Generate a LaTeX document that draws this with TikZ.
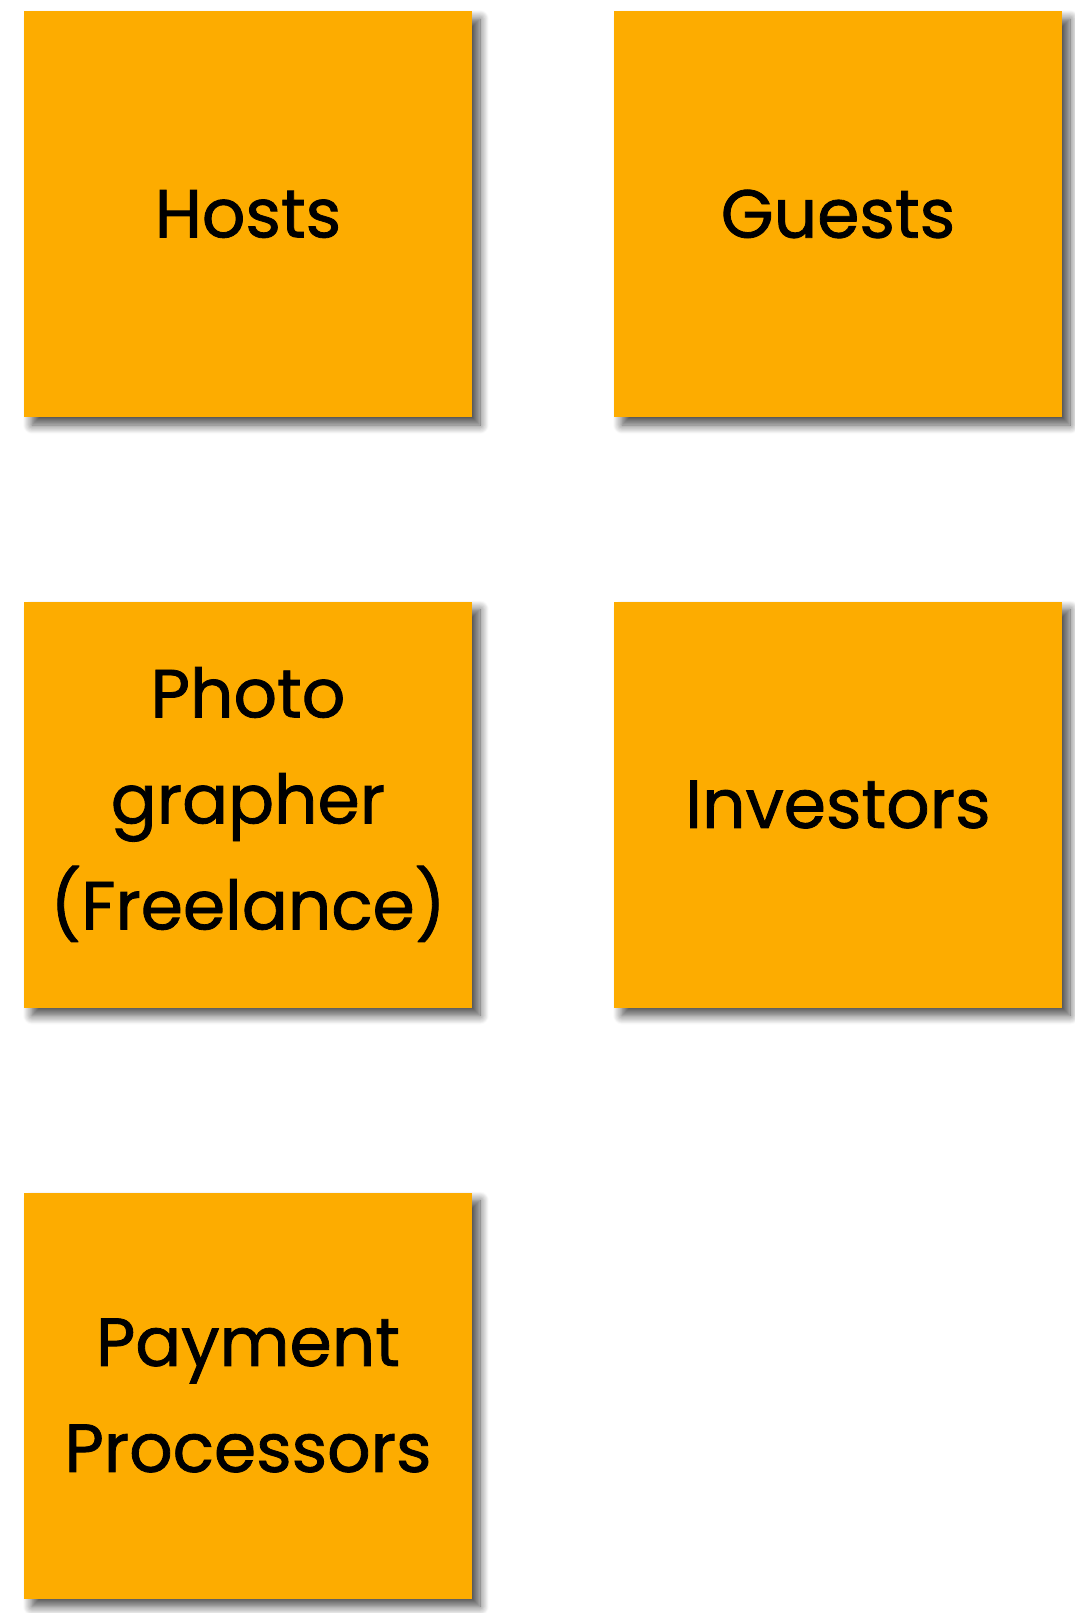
\documentclass[tikz,border=0pt]{standalone}
\usepackage{fontspec}
\setmainfont{Poppins}[BoldFont=Poppins, BoldFeatures={FakeBold=1.2}]
\usetikzlibrary{shadows.blur}
\definecolor{sticky}{RGB}{253,172,0}
\tikzset{
  note/.style={fill=sticky, draw=none, minimum width=448pt, minimum height=406pt,
    inner sep=0pt, align=center, text=black,
    font=\fontsize{68}{106}\selectfont\bfseries,
    blur shadow={shadow xshift=8pt, shadow yshift=-8pt, shadow blur steps=12, shadow blur radius=9pt, shadow opacity=70}}
}
\begin{document}
\begin{tikzpicture}[x=1pt,y=-1pt]
\useasboundingbox (0,0) rectangle (1075,1613);
\node[note] (hosts) at (248,214) {Hosts};
\node[note] (guests) at (838,214) {Guests};
\node[note] (photo) at (248,804.5) {Photo\\grapher\\(Freelance)};
\node[note] (investors) at (838,804.5) {Investors};
\node[note] (payment) at (248,1395.5) {Payment\\Processors};
\end{tikzpicture}
\end{document}
